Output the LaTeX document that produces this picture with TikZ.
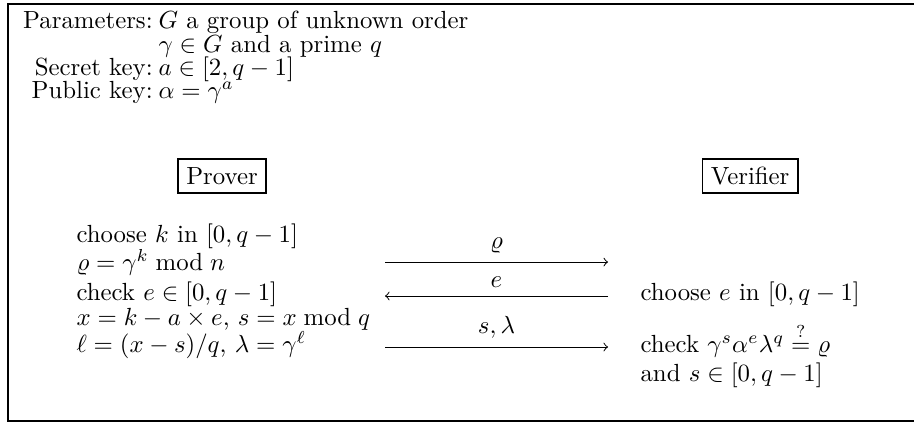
\documentclass[tikz,border=0pt]{standalone}
\usepackage{amsmath}

\begin{document}
\begin{tikzpicture}[x=1cm, y=1cm, >=to,
  lbl/.style={anchor=base east, inner sep=0pt},
  val/.style={anchor=base west, inner sep=0pt},
  party/.style={draw, line width=0.8pt},
  msg/.style={->, line width=0.4pt}]

% Page size and outer frame (right side runs off the page)
\useasboundingbox (0,0) rectangle (12.95,-5.98);
\draw[line width=0.8pt] (0.12,-0.05) rectangle (13.3,-5.965);

% ==================== SETUP ====================
\node[lbl] (parL) at (2.17,-0.397) {Parameters:};
\node[val] (parV) at (2.24,-0.397) {$G$ a group of unknown order};
\node[val] (parW) at (2.24,-0.737) {$\gamma\in G$ and a prime $q$};
\node[lbl] (secL) at (2.17,-1.063) {Secret key:};
\node[val] (secV) at (2.24,-1.063) {$a\in[2,q-1]$};
\node[lbl] (pubL) at (2.17,-1.389) {Public key:};
\node[val] (pubV) at (2.24,-1.389) {$\alpha=\gamma^a$};

% ==================== PARTIES ====================
\node[party] (P) at (3.146,-2.494) {Prover};
\node[party] (V) at (10.628,-2.494) {Verifier};

% Prover side
\node[val] (p1) at (1.077,-3.429) {choose $k$ in $[0,q-1]$};
\node[val] (p2) at (1.077,-3.826) {$\varrho=\gamma^k \bmod n$};
\node[val] (p3) at (1.077,-4.251) {check $e\in[0,q-1]$};
\node[val] (p4) at (1.077,-4.605) {$x=k-a\times e$, $s=x \bmod q$};
\node[val] (p5) at (1.077,-4.988) {$\ell=(x-s)/q$, $\lambda=\gamma^\ell$};

% Verifier side
\node[val] (v1) at (9.069,-4.251) {choose $e$ in $[0,q-1]$};
\node[val] (v2) at (9.069,-4.988) {check $\gamma^s\alpha^e\lambda^q \stackrel{?}{=} \varrho$};
\node[val] (v3) at (9.069,-5.399) {and $s\in[0,q-1]$};

% ==================== MESSAGES ====================
\coordinate (m1L) at (5.455,-3.713);
\coordinate (m1R) at (8.615,-3.713);
\coordinate (m2L) at (5.455,-4.194);
\coordinate (m2R) at (8.615,-4.194);
\coordinate (m3L) at (5.455,-4.917);
\coordinate (m3R) at (8.615,-4.917);

\draw[msg] (m1L) -- node[above] {$\varrho$} (m1R);
\draw[msg] (m2R) -- node[above] {$e$} (m2L);
\draw[msg] (m3L) -- node[above] {$s,\lambda$} (m3R);

\end{tikzpicture}
\end{document}
